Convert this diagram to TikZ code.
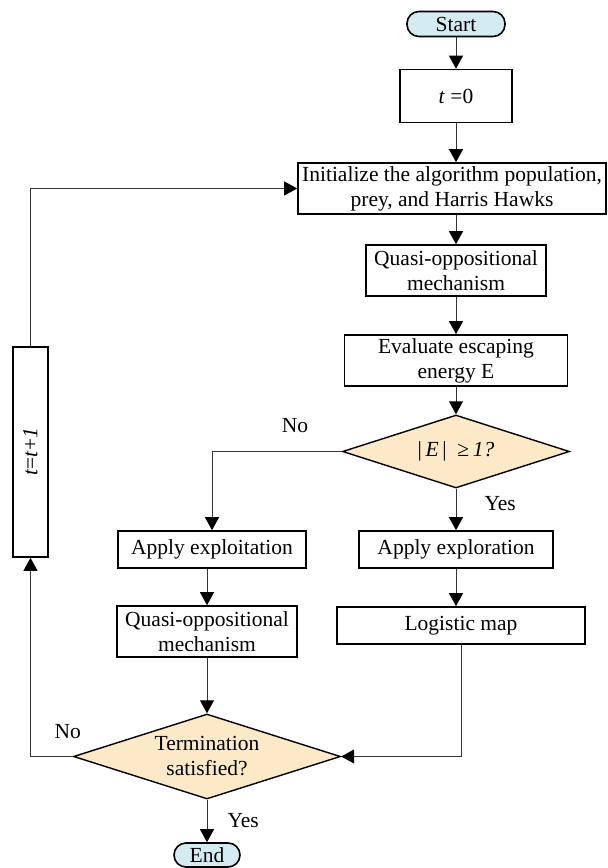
\documentclass[tikz,border=0pt]{standalone}
\usepackage{fontspec}
\setmainfont{Liberation Serif}
\usepackage{tikz}
\usetikzlibrary{
  shapes.geometric
  , arrows.meta
  , positioning
}
\definecolor{terminalfill}{RGB}{213,235,242}
\definecolor{decisionfill}{RGB}{252,233,200}

\begin{document}
\begin{tikzpicture}[
    x=0.5pt, y=-0.5pt
    , font=\fontsize{10.75pt}{12.5pt}\selectfont
  ]
  \tikzstyle{box template}=[rectangle, draw=black, line width=0.8pt, inner sep=0pt, align=center];
  \tikzstyle{terminal template}=[box template, rounded corners=6pt, fill=terminalfill, minimum height=12.5pt];
  \tikzstyle{decision template}=[diamond, aspect=3.1, draw=black, line width=0.7pt, fill=decisionfill, inner sep=0pt, align=center];
  \tikzstyle{flow}=[-{Triangle[length=6.5pt,width=7pt,color=black]}, line width=0.5pt, draw=black!80];
  \tikzstyle{branch label}=[inner sep=0pt];

  \useasboundingbox (0,0) rectangle (608,868);

  % main column
  \node [terminal template, minimum width=49pt] (start) at (456,24) {Start};
  \node [box template, minimum width=56pt, minimum height=26.5pt] (t0) at (456,96) {\textit{t} =0};
  \node [box template, minimum width=154pt, minimum height=25.5pt] (init) at (452,188.5)
    {Initialize the algorithm population,\\prey, and Harris Hawks};
  \node [box template, minimum width=90pt, minimum height=25.5pt] (quasi1) at (456,270.5)
    {Quasi-oppositional\\mechanism};
  \node [box template, minimum width=111.5pt, minimum height=25.5pt] (eval) at (456,360.5)
    {Evaluate escaping\\energy E};
  \node [decision template, minimum width=113.5pt, minimum height=36.5pt] (dec1) at (456,451.5)
    {|\,\textit{E}\,|\enspace≥\,\textit{1?}};

  % branches
  \node [box template, minimum width=94pt, minimum height=18.5pt] (exploit) at (212,549.5) {Apply exploitation};
  \node [box template, minimum width=97pt, minimum height=18.5pt] (explore) at (456,549.5) {Apply exploration};
  \node [box template, minimum width=90pt, minimum height=25.5pt] (quasi2) at (207,631.5)
    {Quasi-oppositional\\mechanism};
  \node [box template, minimum width=124pt, minimum height=18.5pt] (logistic) at (461,625.5) {Logistic map};
  \node [decision template, aspect=3.14, minimum width=133.5pt, minimum height=42.5pt] (term) at (207,756.5)
    {Termination\\satisfied?};
  \node [terminal template, minimum width=33pt, minimum height=12pt] (end) at (207,855) {End};

  \node [box template, minimum width=17.5pt, minimum height=105pt] (incr) at (30.5,452)
    {\rotatebox{90}{\textit{t}=\textit{t}+\textit{1}}};

  \draw [flow] (start) -- (t0);
  \draw [flow] (t0) -- (t0 |- init.north);
  \draw [flow] (quasi1 |- init.south) -- (quasi1);
  \draw [flow] (quasi1) -- (eval);
  \draw [flow] (eval) -- (dec1);

  \draw [flow] (dec1.west) -| node [branch label, pos=0.18, above=9pt] {No} (exploit.north);
  \draw [flow] (dec1.south) -- node [branch label, pos=0.35, right=14pt] {Yes} (explore.north);

  \draw [flow] (quasi2 |- exploit.south) -- (quasi2.north);
  \draw [flow] (quasi2) -- (term);
  \draw [flow] (explore) -- (explore |- logistic.north);
  \draw [flow] (logistic.south) |- (term.east);

  \draw [flow] (term) -- node [branch label, pos=0.48, right=10pt] {Yes} (end);
  \draw [flow] (term.west) -| node [branch label, pos=0.06, above=8.5pt] {No} (incr.south);
  \draw [flow] (incr.north) |- (init.west);
\end{tikzpicture}
\end{document}
